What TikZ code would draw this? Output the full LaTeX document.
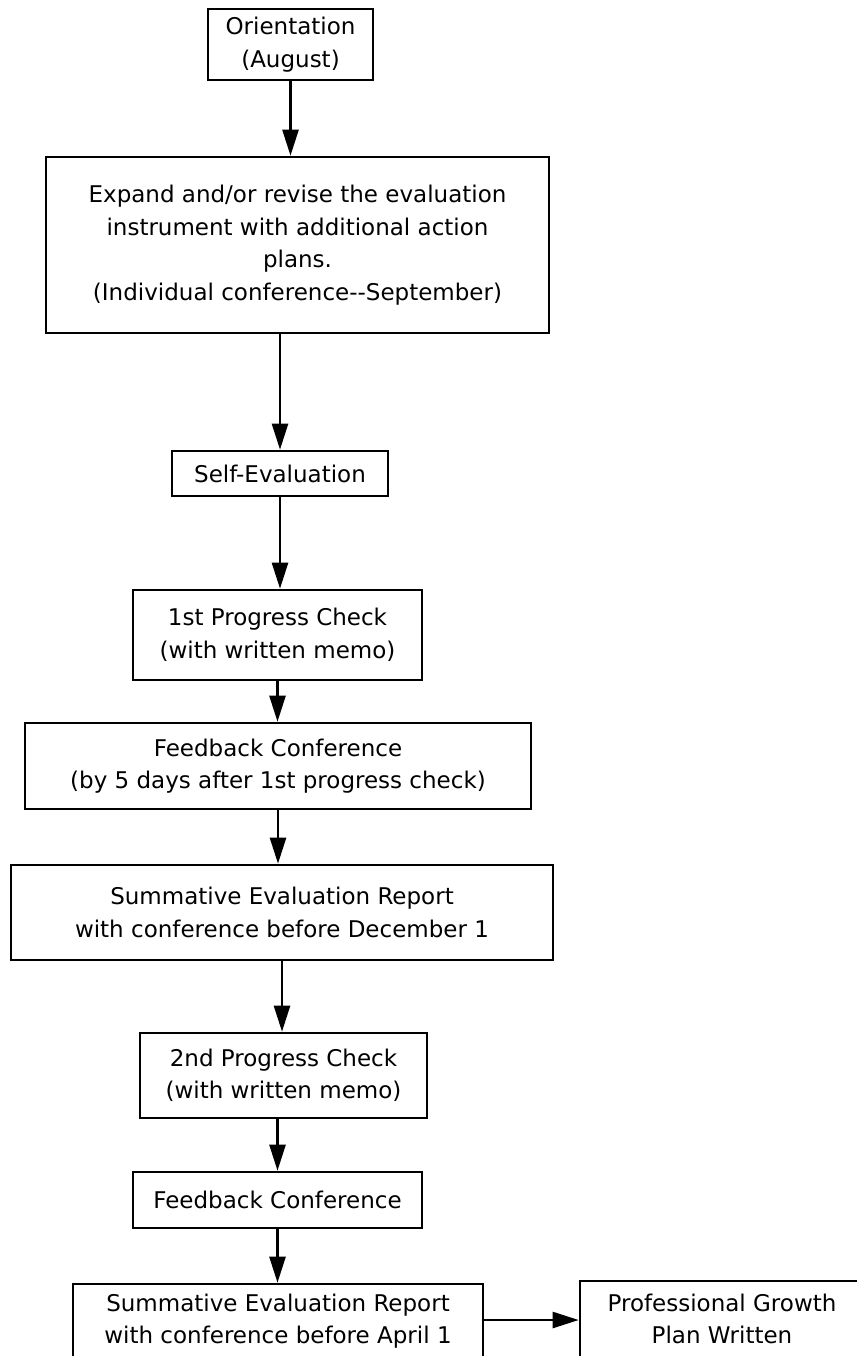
\documentclass[tikz,border=0pt]{standalone}
\usepackage{fontspec}
\setmainfont{DejaVu Sans}
\usepackage{tikz}
\usetikzlibrary{arrows.meta, positioning}
\tikzset{
  stepbox/.style={draw=black,line width=2.6pt,rectangle,align=center,inner sep=0pt,
    font=\fontsize{23pt}{32.5pt}\selectfont},
  flowarrow/.style={-{Triangle[length=26pt,width=16pt]},line width=2.4pt,black},
}

\begin{document}
\begin{tikzpicture}[x=1pt,y=-1pt]
  \useasboundingbox (0,0) rectangle (856,1356);
  \node[stepbox,minimum width=165pt,minimum height=71pt] (nOrient) at (290.5,44.5) {Orientation\\(August)};
  \node[stepbox,minimum width=503pt,minimum height=176pt] (nExpand) at (297.5,245) {Expand and/or revise the evaluation\\instrument with additional action\\plans.\\(Individual conference-{}-September)};
  \node[stepbox,minimum width=216pt,minimum height=45pt] (nSelf) at (280,473.5) {Self-Evaluation};
  \node[stepbox,minimum width=289pt,minimum height=90pt] (nCheckA) at (277.5,635) {1st Progress Check\\(with written memo)};
  \node[stepbox,minimum width=506pt,minimum height=86pt] (nFeedA) at (278,766) {Feedback Conference\\(by 5 days after 1st progress check)};
  \node[stepbox,minimum width=542pt,minimum height=95pt] (nSumDec) at (282,912.5) {Summative Evaluation Report\\with conference before December 1};
  \node[stepbox,minimum width=287pt,minimum height=85pt] (nCheckB) at (283.5,1075.5) {2nd Progress Check\\(with written memo)};
  \node[stepbox,minimum width=289pt,minimum height=56pt] (nFeedB) at (277.5,1200) {Feedback Conference};
  \node[stepbox,minimum width=410pt,minimum height=102pt] (nSumApr) at (278,1335) {Summative Evaluation Report\\with conference before April 1\\\mbox{}};
  \node[stepbox,minimum width=284pt,minimum height=108pt] (nGrowth) at (722,1335) {Professional Growth\\Plan Written\\\mbox{}};
  \draw[flowarrow] (nOrient.south) -- (nOrient.south |- nExpand.north);
  \draw[flowarrow] (nSelf.north |- nExpand.south) -- (nSelf.north);
  \draw[flowarrow] (nSelf.south) -- (nSelf.south |- nCheckA.north);
  \draw[flowarrow] (nCheckA.south) -- (nCheckA.south |- nFeedA.north);
  \draw[flowarrow] (nFeedA.south) -- (nFeedA.south |- nSumDec.north);
  \draw[flowarrow] (nSumDec.south) -- (nSumDec.south |- nCheckB.north);
  \draw[flowarrow] (nFeedB.north |- nCheckB.south) -- (nFeedB.north);
  \draw[flowarrow] (nFeedB.south) -- (nFeedB.south |- nSumApr.north);
  \draw[flowarrow] ([yshift=15pt]nSumApr.east) -- ([yshift=15pt]nSumApr.east -| nGrowth.west);
\end{tikzpicture}
\end{document}
